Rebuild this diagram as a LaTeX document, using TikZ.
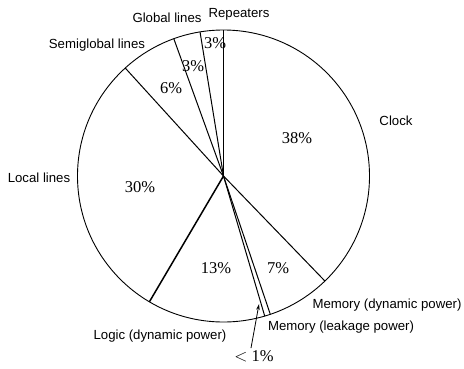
\documentclass[tikz,border=0pt]{standalone}
\usepackage{fontspec}
\setmainfont{Liberation Serif}
\newfontfamily\labfont{Liberation Sans}
\usetikzlibrary{arrows.meta,calc}
\begin{document}
\begin{tikzpicture}[x=1pt,y=-1pt,
  lab/.style={inner sep=0pt,font=\labfont\fontsize{13.2}{15}\selectfont},
  pct/.style={inner sep=0pt,font=\fontsize{16.5}{18}\selectfont},
  wedge/.style={line width=1pt},
  rim/.style={line width=0.9pt}]
\useasboundingbox (0,0) rectangle (464,368);
\coordinate (c) at (223.5,176);
\draw[rim] (c) circle[radius=146];
\foreach \n/\a/\w in {rep/90/1, clk/-46/1, mdyn/-71.3/1, mleak/-73.6/1, logic/-120.5/1.5, local/132.3/1, semi/109.9/1, glob/99.25/1}{
  \coordinate (\n) at ($(c)+(-\a:146)$);
  \draw[wedge,line width=\w pt] (c) -- (\n);
}
% labels
\node[lab] (lRep) at (239,14) {Repeaters};
\node[lab] (lGlob) at (167,18) {Global lines};
\node[lab] (lSemi) at (97,45) {Semiglobal lines};
\node[lab] (lLocal) at (39,178) {Local lines};
\node[lab] (lClk) at (396,121) {Clock};
\node[lab] (lMdyn) at (387,305) {Memory (dynamic power)};
\node[lab] (lMleak) at (341,327) {Memory (leakage power)};
\node[lab] (lLogic) at (160,336) {Logic (dynamic power)};
% percentages
\node[pct] (pClk) at (297,138) {38\%};
\node[pct] (pRep) at (215,43) {3\%};
\node[pct] (pGlob) at (193,66) {3\%};
\node[pct] (pSemi) at (171,88) {6\%};
\node[pct] (pLocal) at (140,187) {30\%};
\node[pct] (pLogic) at (216,268) {13\%};
\node[pct] (pMdyn) at (278,268) {7\%};
\node[pct] (pLeak) at (254,356) {$<$ 1\%};
\coordinate (tip) at (259,304);
\draw[line width=0.8pt,-{Stealth[length=6pt,width=3.5pt]}] (pLeak.north) ++(-3,-2) -- (tip);
\end{tikzpicture}
\end{document}
